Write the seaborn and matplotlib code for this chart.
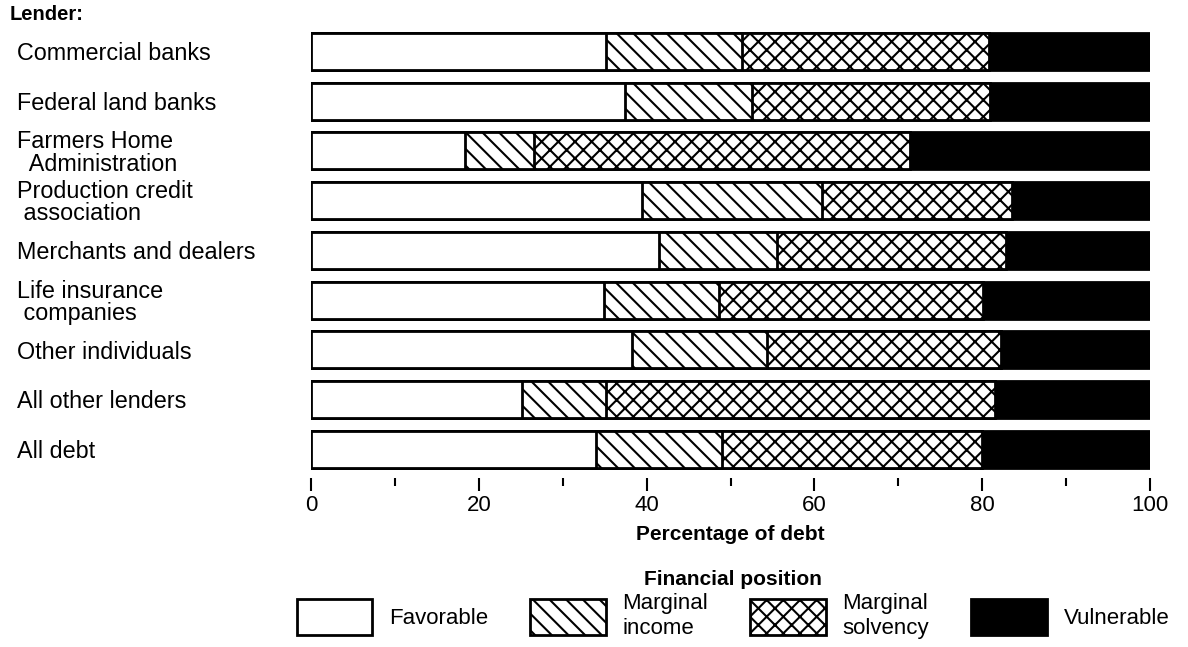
import matplotlib
matplotlib.use("Agg")
import matplotlib.pyplot as plt
import matplotlib.patches as mpatches
from matplotlib.ticker import MultipleLocator
import seaborn as sns
import pandas as pd

# Data (percent of debt)
lenders = [
    "Commercial banks",
    "Federal land banks",
    "Farmers Home\n  Administration",
    "Production credit\n association",
    "Merchants and dealers",
    "Life insurance\n companies",
    "Other individuals",
    "All other lenders",
    "All debt",
]
favorable = [35.2, 37.4, 18.4, 39.4, 41.5, 34.9, 38.2, 25.2, 34.0]
marginal_income = [16.2, 15.2, 8.2, 21.5, 14.1, 13.7, 16.2, 10.0, 15.0]
marginal_solvency = [29.4, 28.3, 44.8, 22.6, 27.2, 31.5, 27.8, 46.3, 31.0]
vulnerable = [19.2, 19.1, 28.6, 16.5, 17.2, 19.9, 17.8, 18.5, 20.0]

sns.set_theme(style="white")
plt.rcParams["font.family"] = ["Liberation Sans", "DejaVu Sans"]
plt.rcParams["hatch.linewidth"] = 1.5
plt.rcParams["text.color"] = "black"
plt.rcParams["axes.labelcolor"] = "black"
plt.rcParams["xtick.color"] = "black"
plt.rcParams["ytick.color"] = "black"

df = pd.DataFrame({
    "lender": lenders,
    "Favorable": favorable,
    "Marginal income": marginal_income,
    "Marginal solvency": marginal_solvency,
    "Vulnerable": vulnerable,
})
# cumulative ends for stacking
df["c1"] = df["Favorable"]
df["c2"] = df["c1"] + df["Marginal income"]
df["c3"] = df["c2"] + df["Marginal solvency"]
df["c4"] = df["c3"] + df["Vulnerable"]

fig = plt.figure(figsize=(11.88, 6.47), dpi=100)
ax = fig.add_axes([0.2618, 0.2612, 0.7062, 0.7053])

# draw longest first so the shorter segments sit on top
layers = [
    ("c4", "black", None),
    ("c3", "white", "xx"),
    ("c2", "white", "\\\\"),
    ("c1", "white", None),
]
for col, fc, h in layers:
    sns.barplot(data=df, x=col, y="lender", orient="h", color=fc,
                saturation=1, edgecolor="black", linewidth=2, hatch=h,
                width=0.745, errorbar=None, ax=ax)

ax.set_xlim(0, 100)
ax.set_ylim(8.58, -0.6)
for s in ax.spines.values():
    s.set_visible(False)

ax.set_xticks([0, 20, 40, 60, 80, 100])
ax.xaxis.set_minor_locator(MultipleLocator(10))
ax.tick_params(axis="x", which="major", bottom=True, direction="out",
               length=9.4, width=1.5, labelsize=16, pad=3)
ax.tick_params(axis="x", which="minor", bottom=True, direction="out",
               length=5.5, width=1.5)
ax.set_xlabel("Percentage of debt", fontsize=15, fontweight="bold",
              labelpad=6)

ax.set_ylabel("")
ax.set_yticks(range(len(lenders)))
ax.set_yticklabels(lenders, fontsize=16.8, ha="left", linespacing=0.95)
ax.tick_params(axis="y", left=False, pad=206)

fig.text(10 / 1188, 1 - 14 / 647, "Lender:", fontsize=14.5,
         fontweight="bold", va="center", ha="left")

handles = [
    mpatches.Patch(facecolor="white", edgecolor="black", linewidth=2,
                   label="Favorable"),
    mpatches.Patch(facecolor="white", edgecolor="black", linewidth=2,
                   hatch="\\\\", label="Marginal\nincome"),
    mpatches.Patch(facecolor="white", edgecolor="black", linewidth=2,
                   hatch="xx", label="Marginal\nsolvency"),
    mpatches.Patch(facecolor="black", edgecolor="black", linewidth=2,
                   label="Vulnerable"),
]
fig.legend(handles=handles, loc="upper center",
           bbox_to_anchor=(0.617, 1 - 570 / 647), ncol=4, frameon=False,
           fontsize=16, title="Financial position",
           title_fontproperties={"weight": "bold", "size": 15},
           handlelength=3.4, handleheight=2.05, handletextpad=0.75,
           columnspacing=1.9, borderaxespad=0, borderpad=0,
           labelspacing=0.2)

fig.savefig("out.png", dpi=100)
